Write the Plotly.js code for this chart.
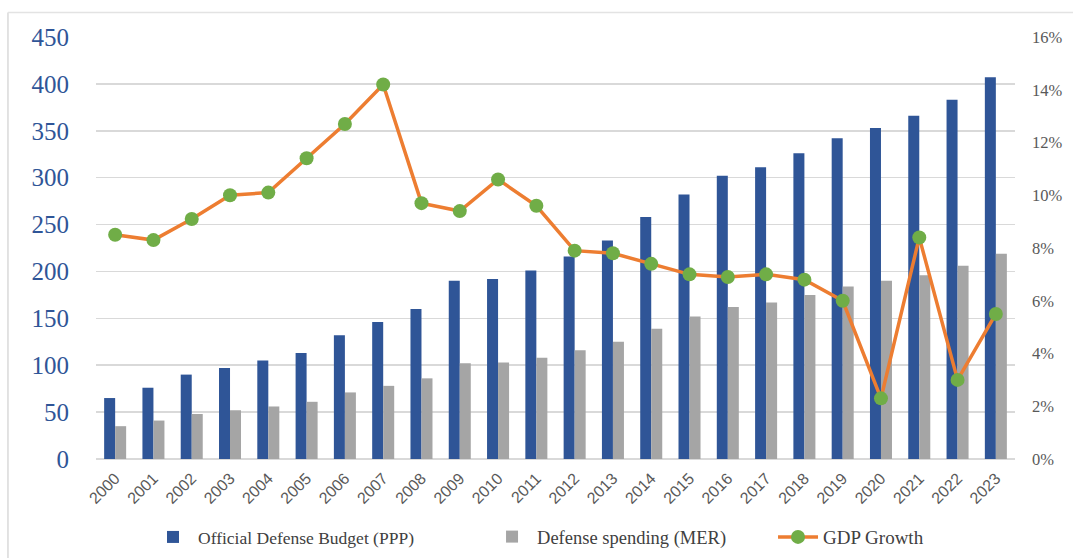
<!DOCTYPE html>
<html>
<head>
<meta charset="utf-8">
<script src="https://cdn.plot.ly/plotly-3.0.1.min.js"></script>
<style>html,body{margin:0;padding:0;background:#fff;}#chart{width:1073px;height:558px;}</style>
</head>
<body>
<div id="chart"></div>
<script>
const years = ["2000","2001","2002","2003","2004","2005","2006","2007","2008","2009","2010","2011","2012","2013","2014","2015","2016","2017","2018","2019","2020","2021","2022","2023"];
const officialBudgetPPP = [65,76,90,97,105,113,132,146,160,190,192,201,216,233,258,282,302,311,326,342,353,366,383,407];
const defenseSpendingMER = [35,41,48,52,56,61,71,78,86,102,103,108,116,125,139,152,162,167,175,184,190,196,206,219];
const gdpGrowth = [0.085,0.083,0.091,0.100,0.101,0.114,0.127,0.142,0.097,0.094,0.106,0.096,0.079,0.078,0.074,0.070,0.069,0.070,0.068,0.060,0.023,0.084,0.030,0.055];

const traces = [
  {type:'bar', name:'Official Defense Budget (PPP)', x:years, y:officialBudgetPPP, marker:{color:'#2F5597'}, legend:'legend'},
  {type:'bar', name:'Defense spending (MER)', x:years, y:defenseSpendingMER, marker:{color:'#A5A5A5'}, legend:'legend2'},
  {type:'scatter', mode:'lines+markers', name:'GDP Growth', x:years, y:gdpGrowth, yaxis:'y2', legend:'legend3',
   line:{color:'#ED7D31', width:3.5}, marker:{color:'#70AD47', size:14}}
];

function legendAt(x, size){
  return {orientation:'h', x:x, xanchor:'left', y:-0.185, yanchor:'middle',
    font:{family:'Liberation Serif, serif', size:size, color:'#404040'}, itemwidth:40, bgcolor:'rgba(0,0,0,0)'};
}

const layout = {
  width:1073, height:558,
  margin:{l:96, r:58, t:37, b:99, autoexpand:false},
  paper_bgcolor:'#fff', plot_bgcolor:'#fff',
  barmode:'group', bargap:0.425, bargroupgap:0,
  showlegend:true,
  legend:legendAt(0.0566, 17.5),
  legend2:legendAt(0.4255, 18.5),
  legend3:legendAt(0.7367, 19),
  xaxis:{type:'category', range:[-0.5, 23.5], tickangle:-45, showgrid:false, zeroline:false, showline:false, ticks:'',
    ticklabelstandoff:6,
    tickfont:{family:'Liberation Sans, sans-serif', size:16, color:'#595959'}},
  yaxis:{range:[0,450], dtick:50, showgrid:true, gridcolor:'#D9D9D9', gridwidth:1.5, zeroline:true,
    zerolinecolor:'#D9D9D9', zerolinewidth:1.5, showline:false, ticks:'', ticklabelstandoff:26,
    tickfont:{family:'Liberation Serif, serif', size:25, color:'#2F5597'}},
  yaxis2:{overlaying:'y', side:'right', range:[0,0.16], dtick:0.02, tickformat:'.0%', showgrid:false,
    zeroline:false, showline:false, ticks:'', ticklabelstandoff:16,
    tickfont:{family:'Liberation Serif, serif', size:16.5, color:'#595959'}},
  shapes:[
    {type:'line', xref:'paper', yref:'paper', x0:-0.0958, x1:-0.0958, y0:1.058, y1:-0.24, line:{color:'#D9D9D9', width:1.5}},
    {type:'line', xref:'paper', yref:'paper', x0:-0.0958, x1:1.07, y0:1.058, y1:1.058, line:{color:'#E3E3E3', width:1.5}}
  ]
};

Plotly.newPlot('chart', traces, layout, {staticPlot:true});
</script>
</body>
</html>
